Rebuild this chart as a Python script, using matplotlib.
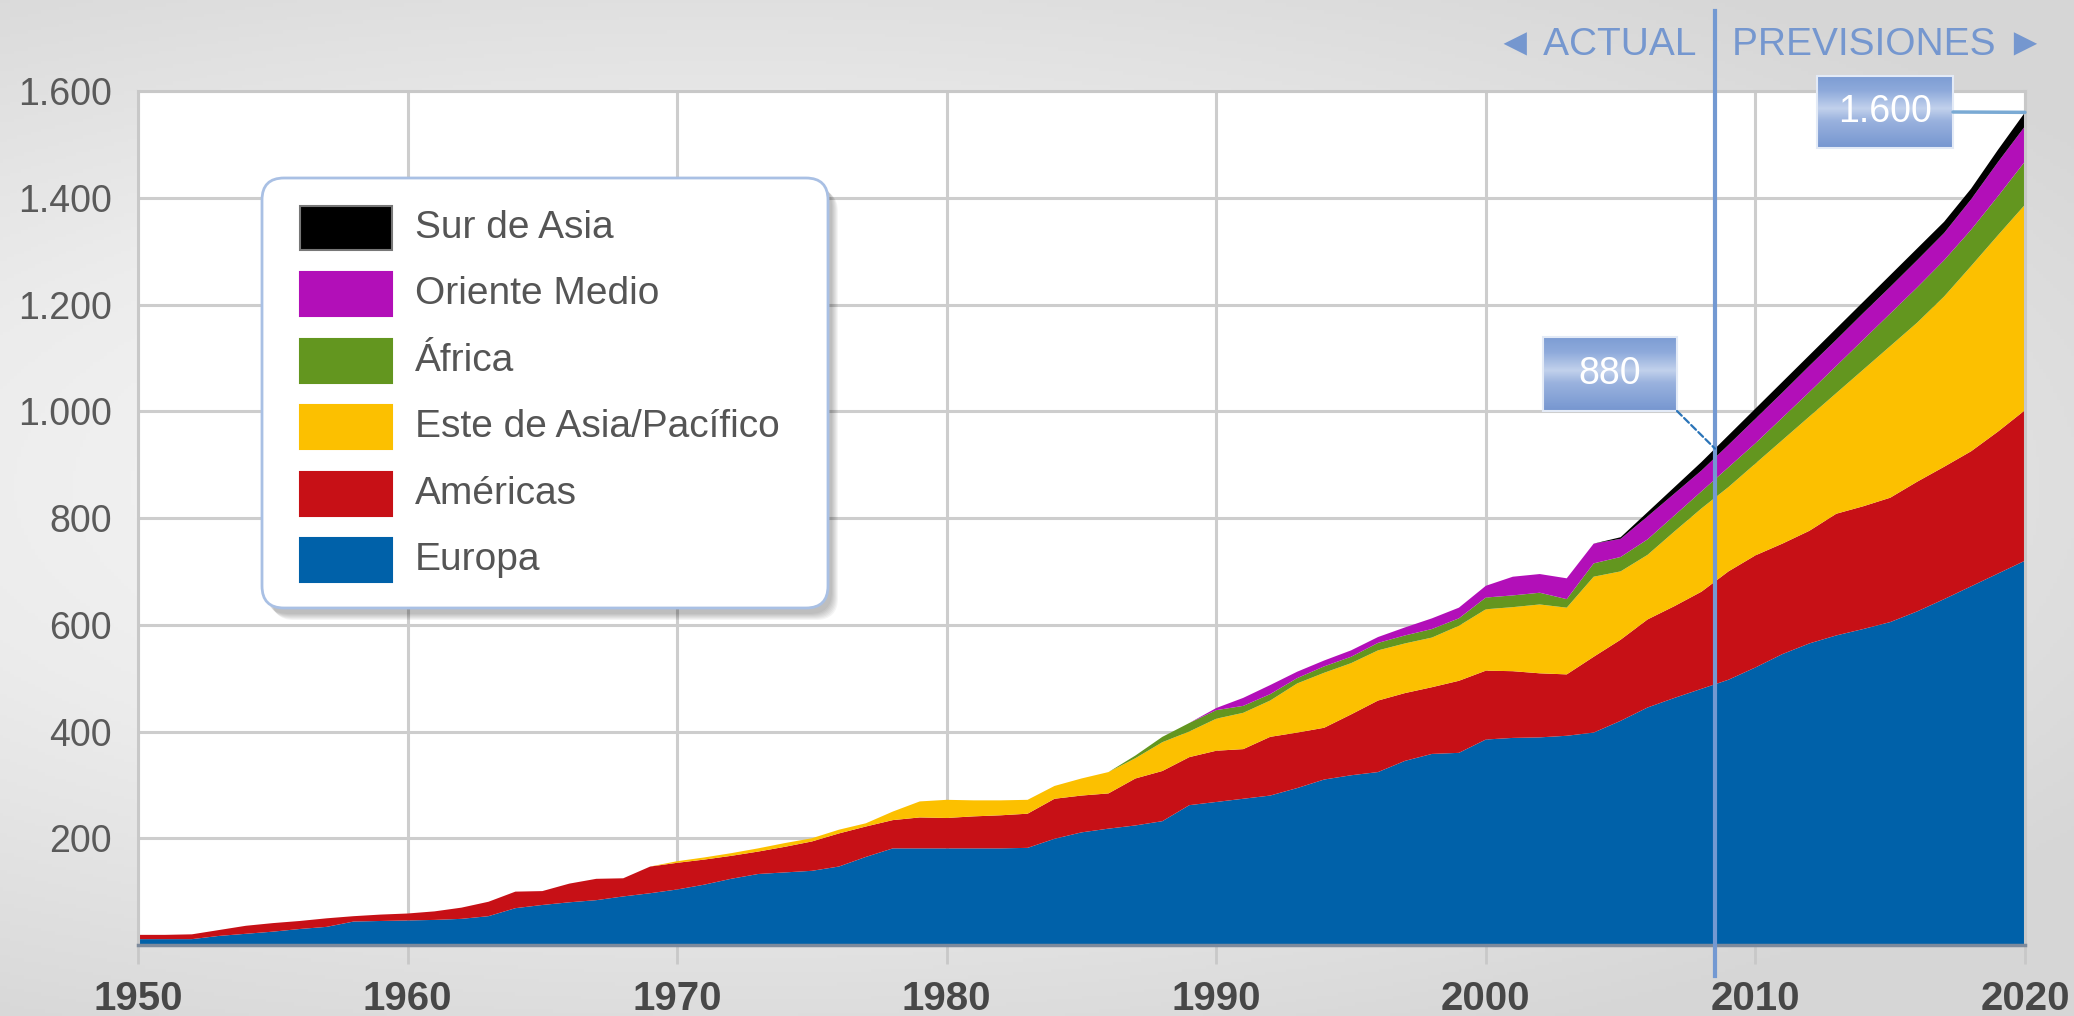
import numpy as np
import matplotlib
matplotlib.use("Agg")
import matplotlib.pyplot as plt
from matplotlib.patches import FancyBboxPatch, Rectangle, ConnectionPatch
from matplotlib.colors import LinearSegmentedColormap

W, H = 2074, 1016

# datos (millones de llegadas por region)
years = list(range(1950, 2021))

europa = [11, 11, 11, 17, 21, 25, 30, 34, 44, 45,
          46, 47, 49, 54, 69, 75, 80, 84, 91, 97,
          104, 113, 124, 133, 136, 139, 147, 165, 181, 181,
          181, 181, 181, 182, 199, 211, 218, 224, 232, 262,
          268, 274, 280, 294, 310, 318, 324, 345, 358, 360,
          385, 388, 389, 392, 398, 420, 445, 463, 480, 497,
          520, 545, 565, 580, 592, 605, 625, 648, 672, 696,
          720]
americas = [8, 8, 9, 11, 15, 16, 15, 16, 10, 12,
            13, 16, 21, 27, 31, 26, 35, 40, 34, 50,
            50, 47, 43, 42, 48, 55, 62, 57, 53, 58,
            57, 60, 62, 64, 75, 69, 66, 88, 94, 90,
            96, 93, 110, 104, 97, 114, 134, 127, 125, 135,
            129, 125, 120, 115, 142, 152, 165, 172, 182, 203,
            210, 207, 211, 228, 230, 233, 243, 248, 253, 266,
            282]
este_asia = [0] * 20 + [3, 4, 5, 6, 7, 6, 7, 6, 16, 30,
                        34, 30, 28, 26, 24, 32, 40, 38, 54, 48,
                        60, 68, 68, 92, 103, 96, 94, 93, 93, 103,
                        115, 120, 129, 125, 150, 128, 121, 140, 156, 158,
                        172, 194, 214, 226, 256, 284, 298, 319, 347, 368,
                        385]
africa = [0] * 37 + [5, 10, 16,
                     16, 13, 12, 10, 12, 12, 14, 15, 16, 14,
                     22, 22, 22, 16, 25, 27, 29, 30, 32, 37,
                     38, 42, 46, 51, 56, 61, 66, 68, 68, 73,
                     81]
oriente_medio = [0] * 40 + [4, 15, 17, 12, 11, 12, 11, 15, 20, 20,
                            22, 35, 35, 39, 37, 34, 43, 41, 39, 42,
                            46, 47, 49, 49, 50, 50, 51, 51, 57, 64,
                            66]
sur_asia = [0] * 55 + [3, 8, 12, 16, 18,
                       19, 20, 20, 21, 21, 22, 22, 21, 20, 23,
                       26]

series = [europa, americas, este_asia, africa, oriente_medio, sur_asia]
names = ["Europa", "Américas", "Este de Asia/Pacífico", "África", "Oriente Medio", "Sur de Asia"]
colors = ["#0061a9", "#c71016", "#fcc000", "#63961f", "#b20fb8", "#000000"]

split_year = 2008.5
callouts = ["880", "1.600"]

plt.rcParams['font.family'] = ['Liberation Sans', 'DejaVu Sans']

fig = plt.figure(figsize=(W / 100, H / 100), dpi=100)

# fondo con degradado gris
bg = fig.add_axes([0, 0, 1, 1], zorder=0)
yy, xx = np.mgrid[0:1:300j, 0:1:600j]
r = np.sqrt(((xx - 0.35) / 0.8) ** 2 + ((yy - 0.48) / 0.62) ** 2)
bg_cmap = LinearSegmentedColormap.from_list('bg', ['#fafafa', '#ececec', '#d6d6d6'])
bg.imshow(np.clip(r, 0, 1), cmap=bg_cmap, aspect='auto', extent=[0, 1, 0, 1], vmin=0, vmax=1)
bg.axis('off')

# grafico principal
ax = fig.add_axes([138 / W, 1 - 945 / H, (2025 - 138) / W, (945 - 91) / H], zorder=1)
ax.set_facecolor('white')
ax.stackplot(years, *series, colors=colors, linewidth=0, zorder=2)
ax.set_xlim(1950, 2020)
ax.set_ylim(0, 1600)
ax.set_xticks(range(1950, 2021, 10))
yt = list(range(200, 1601, 200))
ax.set_yticks(yt)
ax.set_yticklabels([f"{v:,}".replace(",", ".") for v in yt])
ax.grid(True, color='#cdcdcd', lw=2.2)
ax.set_axisbelow(True)
for s in ['top', 'left', 'right']:
    ax.spines[s].set_color('#c8c8c8')
    ax.spines[s].set_linewidth(2.2)
ax.spines['bottom'].set_color('#7d8a9c')
ax.spines['bottom'].set_linewidth(2.5)
ax.tick_params(axis='x', length=14, width=2, color='#c8c8c8', pad=11,
               labelsize=29, labelcolor='#474747')
for lbl in ax.get_xticklabels():
    lbl.set_fontweight('bold')
ax.tick_params(axis='y', length=0, pad=19, labelsize=27, labelcolor='#5a5a5a')

# linea actual / previsiones
ax.plot([split_year, split_year], [-0.036, 1.094], transform=ax.get_xaxis_transform(),
        color='#7399d2', lw=3, clip_on=False, zorder=6)
ax.annotate('◄ ACTUAL', xy=(split_year, 1), xycoords=ax.get_xaxis_transform(),
            xytext=(-19, 47), textcoords='offset pixels', ha='right', va='center',
            fontsize=28, color='#7597cf', annotation_clip=False)
ax.annotate('PREVISIONES ►', xy=(split_year, 1), xycoords=ax.get_xaxis_transform(),
            xytext=(17, 47), textcoords='offset pixels', ha='left', va='center',
            fontsize=28, color='#7597cf', annotation_clip=False)

# capa superior en pixeles para leyenda y etiquetas
ov = fig.add_axes([0, 0, 1, 1], zorder=3)
ov.patch.set_visible(False)
ov.set_autoscale_on(False)
ov.set_xlim(0, W)
ov.set_ylim(H, 0)
ov.axis('off')

# leyenda
lx, ly, lw_, lh = 262, 178, 566, 430
for i in range(7):
    ov.add_patch(FancyBboxPatch((lx + 4 + i, ly + 6 + i), lw_, lh,
                                boxstyle='round,pad=0,rounding_size=22',
                                fc='#000000', ec='none', alpha=0.04))
ov.add_patch(FancyBboxPatch((lx, ly), lw_, lh, boxstyle='round,pad=0,rounding_size=22',
                            fc='white', ec='#a9c0e4', lw=2))
row_top, step = 206, 66.4
for i, (name, c) in enumerate(zip(names[::-1], colors[::-1])):
    t = row_top + i * step
    ov.add_patch(Rectangle((300, t), 92, 44, fc=c, ec=c if c != '#000000' else '#777777',
                           lw=1.5, alpha=1))
    ov.text(415, t + 22, name, fontsize=28, color='#555555', va='center', ha='left')

# cajas de valores
box_cmap = LinearSegmentedColormap.from_list(
    'box', [(0, '#7d9dd4'), (0.2, '#8eaadb'), (0.45, '#c2d1ec'), (0.62, '#9ab2de'), (1, '#7696d0')])
grad = np.linspace(0, 1, 100).reshape(-1, 1)
total = np.sum(np.array(series), axis=0)
boxes = [(1543, 337, 134, 74), (1817, 76, 136, 72)]
targets = [(split_year, np.interp(split_year, years, total)), (years[-1], total[-1])]
for (bx, by, bw, bh), txt in zip(boxes, callouts):
    ov.imshow(grad, cmap=box_cmap, aspect='auto', extent=[bx, bx + bw, by + bh, by],
              vmin=0, vmax=1, zorder=4)
    ov.add_patch(Rectangle((bx, by), bw, bh, fc='none', ec='#e3eaf6', lw=1.5, zorder=5))
    ov.text(bx + bw / 2, by + bh / 2, txt, fontsize=27, color='white', ha='center',
            va='center', zorder=6)

con1 = ConnectionPatch(xyA=(boxes[0][0] + boxes[0][2], boxes[0][1] + boxes[0][3]), coordsA=ov.transData,
                       xyB=targets[0], coordsB=ax.transData, color='#2a74b8', lw=1.6,
                       linestyle=(0, (3, 1.5)), zorder=7)
fig.add_artist(con1)
con2 = ConnectionPatch(xyA=(boxes[1][0] + boxes[1][2], boxes[1][1] + boxes[1][3] / 2), coordsA=ov.transData,
                       xyB=targets[1], coordsB=ax.transData, color='#7aaad4', lw=2.5, zorder=7)
fig.add_artist(con2)

fig.savefig('out.png', dpi=100)
